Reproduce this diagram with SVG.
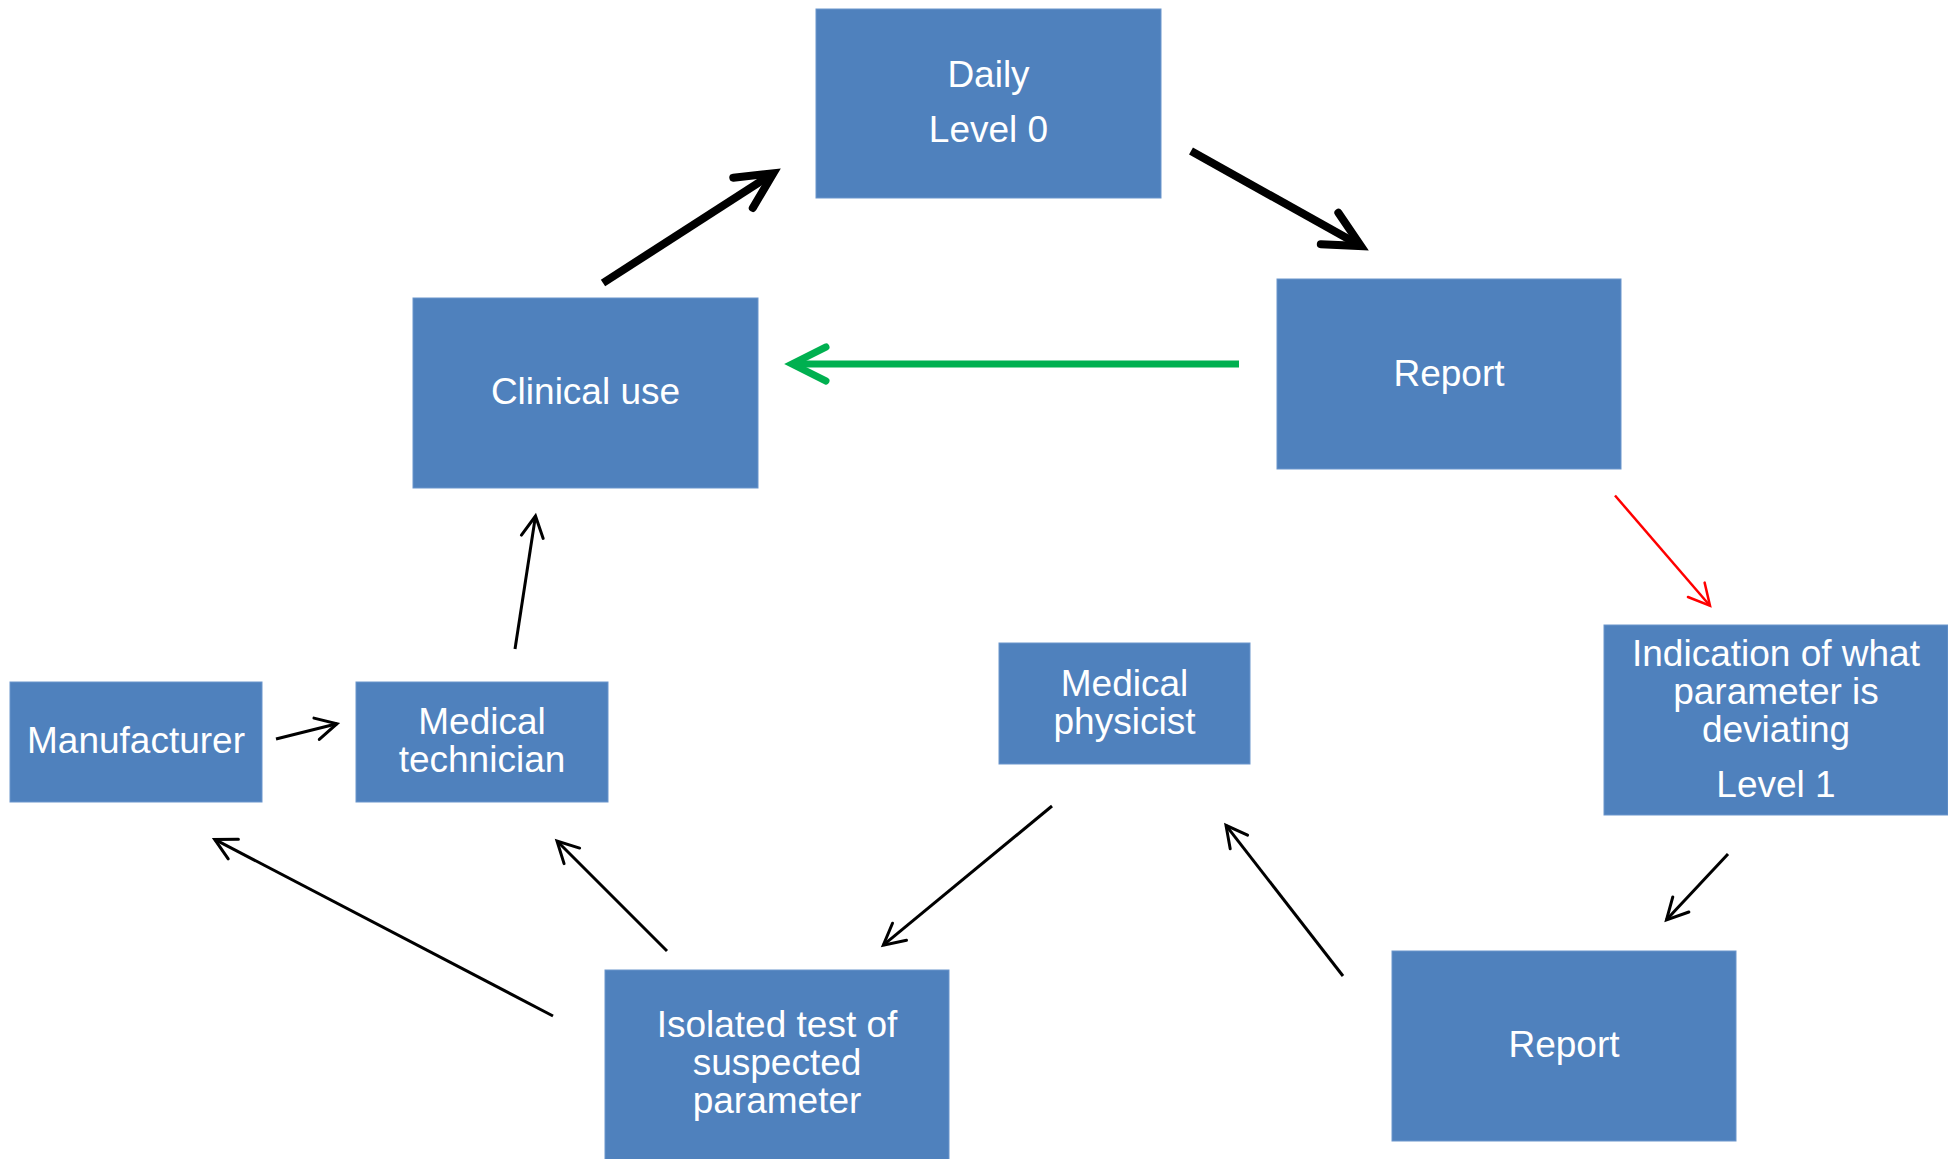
<svg xmlns="http://www.w3.org/2000/svg" width="1948" height="1159" viewBox="0 0 1948 1159">
<style>
.box{fill:#4F81BD;stroke:#6A95CC;stroke-width:1}
.t{font-family:"Liberation Sans",Arial,sans-serif;font-size:37px;fill:#FFFFFF;text-anchor:middle}
.c{fill:none;stroke-linecap:butt}
.thick{stroke:#000;stroke-width:8;marker-end:url(#mThick)}
.green{stroke:#00B050;stroke-width:7;marker-end:url(#mGreen)}
.thin{stroke:#000;stroke-width:3;marker-end:url(#mThin)}
.red{stroke:#FF0000;stroke-width:2.5;marker-end:url(#mRed)}
</style>
<defs>
<marker id="mThick" markerUnits="userSpaceOnUse" orient="auto" refX="0" refY="0" markerWidth="1" markerHeight="1" overflow="visible">
<path d="M-36,-18 L0,0 L-36,18" fill="none" stroke="#000" stroke-width="8" stroke-linecap="round" stroke-linejoin="miter"/>
</marker>
<marker id="mGreen" markerUnits="userSpaceOnUse" orient="auto" refX="0" refY="0" markerWidth="1" markerHeight="1" overflow="visible">
<path d="M-34,-17 L0,0 L-34,17" fill="none" stroke="#00B050" stroke-width="7" stroke-linecap="round" stroke-linejoin="miter"/>
</marker>
<marker id="mThin" markerUnits="userSpaceOnUse" orient="auto" refX="0" refY="0" markerWidth="1" markerHeight="1" overflow="visible">
<path d="M-21,-11 L0,0 L-21,11" fill="none" stroke="#000" stroke-width="3" stroke-linecap="round" stroke-linejoin="miter"/>
</marker>
<marker id="mRed" markerUnits="userSpaceOnUse" orient="auto" refX="0" refY="0" markerWidth="1" markerHeight="1" overflow="visible">
<path d="M-21,-11 L0,0 L-21,11" fill="none" stroke="#FF0000" stroke-width="2.5" stroke-linecap="round" stroke-linejoin="miter"/>
</marker>
</defs>
<rect width="1948" height="1159" fill="#FFFFFF"/>
<g id="connectors">
<line class="c thick" x1="603" y1="283" x2="773.3" y2="173.3"/>
<line class="c thick" x1="1191" y1="151" x2="1361" y2="246.1"/>
<line class="c green" x1="1239" y1="364" x2="792" y2="364"/>
<line class="c red" x1="1615" y1="495.5" x2="1710" y2="605.7"/>
<line class="c thin" x1="1728" y1="854" x2="1666.5" y2="919.8"/>
<line class="c thin" x1="1343" y1="976" x2="1226" y2="825.4"/>
<line class="c thin" x1="1052" y1="806" x2="883.3" y2="945.1"/>
<line class="c thin" x1="667" y1="951" x2="557" y2="841"/>
<line class="c thin" x1="553" y1="1016" x2="214.7" y2="839.4"/>
<line class="c thin" x1="276" y1="739" x2="337" y2="723.7"/>
<line class="c thin" x1="515" y1="649" x2="535.5" y2="516"/>
</g>
<g id="daily">
<rect class="box" x="816" y="9" width="345" height="189"/>
<text class="t" x="988.5" y="87">Daily</text>
<text class="t" x="988.5" y="142">Level 0</text>
</g>
<g id="report-top">
<rect class="box" x="1277" y="279" width="344" height="190"/>
<text class="t" x="1449" y="386">Report</text>
</g>
<g id="clinical-use">
<rect class="box" x="413" y="298" width="345" height="190"/>
<text class="t" x="585.5" y="404">Clinical use</text>
</g>
<g id="indication">
<rect class="box" x="1604" y="625" width="344" height="190"/>
<text class="t" x="1776" y="666">Indication of what</text>
<text class="t" x="1776" y="704">parameter is</text>
<text class="t" x="1776" y="742">deviating</text>
<text class="t" x="1776" y="797">Level 1</text>
</g>
<g id="report-bottom">
<rect class="box" x="1392" y="951" width="344" height="190"/>
<text class="t" x="1564" y="1057">Report</text>
</g>
<g id="medical-physicist">
<rect class="box" x="999" y="643" width="251" height="121"/>
<text class="t" x="1124.5" y="696">Medical</text>
<text class="t" x="1124.5" y="734">physicist</text>
</g>
<g id="isolated-test">
<rect class="box" x="605" y="970" width="344" height="195"/>
<text class="t" x="777" y="1037">Isolated test of</text>
<text class="t" x="777" y="1075">suspected</text>
<text class="t" x="777" y="1113">parameter</text>
</g>
<g id="manufacturer">
<rect class="box" x="10" y="682" width="252" height="120"/>
<text class="t" x="136" y="753">Manufacturer</text>
</g>
<g id="medical-technician">
<rect class="box" x="356" y="682" width="252" height="120"/>
<text class="t" x="482" y="734">Medical</text>
<text class="t" x="482" y="772">technician</text>
</g>
</svg>
